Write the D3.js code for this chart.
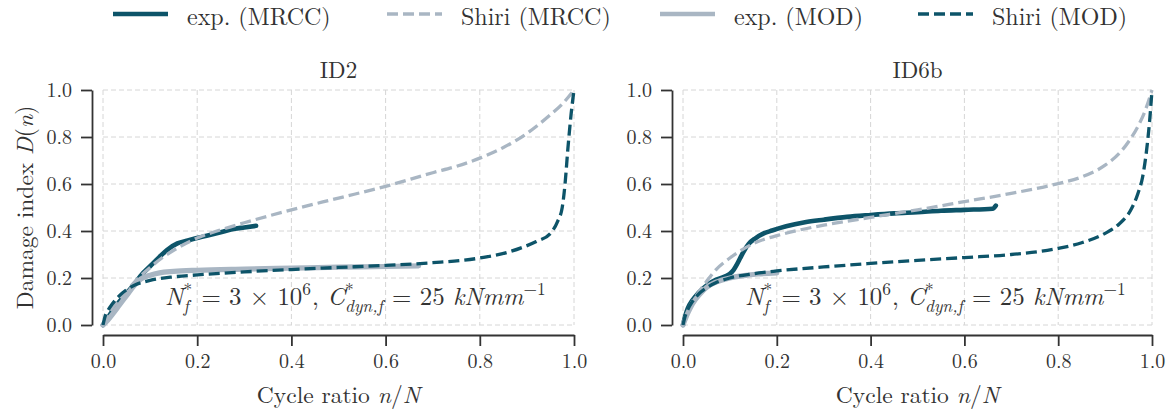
<!DOCTYPE html>
<html><head><meta charset="utf-8">
<script src="https://cdn.jsdelivr.net/npm/d3@7"></script>
<style>
html,body{margin:0;padding:0;background:#fff;}
svg{display:block;}
</style></head>
<body><svg id="chart" width="1175" height="414"></svg>
<script>
// ---------------- data ----------------
const panelTitles = ["ID2", "ID6b"];
const xTicks = [0, 0.2, 0.4, 0.6, 0.8, 1.0];
const yTicks = [0, 0.2, 0.4, 0.6, 0.8, 1.0];
const seriesNames = ["exp. (MRCC)", "Shiri (MRCC)", "exp. (MOD)", "Shiri (MOD)"];

// ID2
const expMRCC_ID2 = [[0,0],[0.01,0.03],[0.02,0.06],[0.035,0.1],[0.05,0.135],[0.065,0.17],[0.08,0.21],[0.1,0.25],[0.12,0.29],[0.14,0.325],[0.158,0.347],[0.18,0.36],[0.2,0.37],[0.22,0.38],[0.25,0.395],[0.28,0.41],[0.3,0.415],[0.325,0.422]];
const shiriMRCC_ID2 = [[0,0],[0.01,0.04],[0.025,0.085],[0.05,0.145],[0.075,0.2],[0.1,0.245],[0.125,0.285],[0.15,0.318],[0.2,0.37],[0.25,0.405],[0.3,0.435],[0.4,0.49],[0.5,0.54],[0.6,0.59],[0.7,0.648],[0.75,0.675],[0.8,0.71],[0.85,0.755],[0.9,0.815],[0.95,0.895],[0.975,0.94],[1.0,1.0]];
const expMOD_ID2 = [[0,0],[0.01,0.02],[0.02,0.045],[0.035,0.085],[0.05,0.125],[0.065,0.165],[0.08,0.195],[0.1,0.212],[0.12,0.222],[0.15,0.228],[0.2,0.233],[0.3,0.238],[0.4,0.242],[0.5,0.246],[0.6,0.249],[0.67,0.252]];
const shiriMOD_ID2 = [[0,0],[0.005,0.04],[0.01,0.06],[0.02,0.09],[0.035,0.125],[0.05,0.15],[0.07,0.172],[0.1,0.19],[0.15,0.205],[0.2,0.213],[0.3,0.226],[0.4,0.236],[0.5,0.245],[0.6,0.254],[0.7,0.265],[0.8,0.285],[0.86,0.31],[0.89,0.33],[0.92,0.355],[0.95,0.39],[0.965,0.44],[0.975,0.5],[0.981,0.6],[0.987,0.75],[0.994,0.9],[1.0,1.0]];

// ID6b
const expMRCC_ID6b = [[0,0],[0.005,0.04],[0.01,0.07],[0.02,0.105],[0.03,0.13],[0.04,0.15],[0.055,0.175],[0.07,0.192],[0.09,0.207],[0.1,0.218],[0.108,0.235],[0.115,0.258],[0.122,0.285],[0.13,0.315],[0.14,0.345],[0.155,0.37],[0.17,0.388],[0.19,0.402],[0.22,0.42],[0.26,0.437],[0.3,0.448],[0.35,0.46],[0.4,0.468],[0.45,0.475],[0.5,0.48],[0.55,0.486],[0.6,0.49],[0.66,0.495],[0.667,0.508]];
const shiriMRCC_ID6b = [[0,0],[0.01,0.06],[0.02,0.1],[0.03,0.13],[0.05,0.185],[0.07,0.235],[0.1,0.285],[0.13,0.325],[0.16,0.355],[0.2,0.38],[0.25,0.405],[0.3,0.425],[0.4,0.458],[0.5,0.49],[0.6,0.525],[0.7,0.56],[0.8,0.602],[0.85,0.63],[0.9,0.68],[0.93,0.73],[0.95,0.78],[0.97,0.845],[0.985,0.91],[1.0,1.0]];
const expMOD_ID6b = [[0,0],[0.01,0.05],[0.02,0.09],[0.035,0.13],[0.05,0.16],[0.07,0.182],[0.1,0.2],[0.13,0.21],[0.16,0.217],[0.2,0.222]];
const shiriMOD_ID6b = [[0,0],[0.005,0.04],[0.01,0.065],[0.02,0.1],[0.035,0.135],[0.05,0.158],[0.07,0.18],[0.1,0.2],[0.15,0.218],[0.2,0.23],[0.3,0.247],[0.4,0.262],[0.5,0.275],[0.6,0.287],[0.7,0.3],[0.8,0.326],[0.85,0.35],[0.9,0.39],[0.93,0.43],[0.955,0.49],[0.97,0.56],[0.98,0.63],[0.99,0.77],[0.995,0.87],[1.0,1.0]];

// ---------------- styles ----------------
const FONT = "'Latin Modern Roman', 'Liberation Serif', serif";
const DARK = "#0d5469", LIGHT = "#a9b6c3", TXT = "#333333";
const styles = [
  {color: DARK,  dash: null,   width: 4.6},
  {color: LIGHT, dash: "11,5", width: 3.3},
  {color: LIGHT, dash: null,   width: 5.2},
  {color: DARK,  dash: "11,5", width: 3.3}
];
function font(sel, size, italic) {
  return sel.style("font-family", FONT).style("font-size", size + "px")
    .style("font-style", italic ? "italic" : "normal");
}

const svg = d3.select("#chart");
const panels = [
  {title: panelTitles[0], x0: 103, x1: 574, spineX: 92, data: [expMRCC_ID2, shiriMRCC_ID2, expMOD_ID2, shiriMOD_ID2], ylabel: true},
  {title: panelTitles[1], x0: 683, x1: 1152, spineX: 672, data: [expMRCC_ID6b, shiriMRCC_ID6b, expMOD_ID6b, shiriMOD_ID6b], ylabel: false}
];
const yTop = 90, yBot = 325, xAxisY = 335;

panels.forEach(p => {
  const x = d3.scaleLinear().domain([0, 1]).range([p.x0, p.x1]);
  const y = d3.scaleLinear().domain([0, 1]).range([yBot, yTop]);
  const g = svg.append("g");

  // grid
  g.append("g").selectAll("line").data(xTicks).join("line")
    .attr("x1", d => x(d)).attr("x2", d => x(d)).attr("y1", yTop).attr("y2", yBot)
    .attr("stroke", "#d6d6d6").attr("stroke-width", 1).attr("stroke-dasharray", "5,3");
  g.append("g").selectAll("line").data(yTicks).join("line")
    .attr("x1", p.x0).attr("x2", p.x1).attr("y1", d => y(d)).attr("y2", d => y(d))
    .attr("stroke", "#d6d6d6").attr("stroke-width", 1).attr("stroke-dasharray", "5,3");

  // axes
  const ax = g.append("g").attr("transform", `translate(${p.spineX},0)`)
    .call(d3.axisLeft(y).tickValues(yTicks).tickFormat(d3.format(".1f")).tickSize(11).tickSizeOuter(0).tickPadding(9));
  const bx = g.append("g").attr("transform", `translate(0,${xAxisY})`)
    .call(d3.axisBottom(x).tickValues(xTicks).tickFormat(d3.format(".1f")).tickSize(11).tickSizeOuter(0).tickPadding(8));
  [ax, bx].forEach(a => {
    a.select(".domain").attr("stroke", TXT).attr("stroke-width", 1.8);
    a.selectAll(".tick line").attr("stroke", TXT).attr("stroke-width", 1.8);
    font(a.selectAll(".tick text").attr("fill", TXT), 20, false);
  });

  // lines
  const line = d3.line().x(d => x(d[0])).y(d => y(d[1])).curve(d3.curveMonotoneX);
  p.data.forEach((ser, i) => {
    const s = styles[i];
    g.append("path").datum(ser).attr("d", line)
      .attr("fill", "none").attr("stroke", s.color).attr("stroke-width", s.width)
      .attr("stroke-dasharray", s.dash).attr("stroke-linecap", s.dash ? "butt" : "round")
      .attr("stroke-linejoin", "round");
  });

  // title
  font(g.append("text").attr("x", (p.x0 + p.x1) / 2).attr("y", 78).attr("text-anchor", "middle")
    .attr("fill", TXT), 23, false).text(p.title);

  // x label
  const xl = font(g.append("text").attr("x", (p.x0 + p.x1) / 2).attr("y", 403).attr("text-anchor", "middle")
    .attr("fill", TXT), 23.5, false);
  xl.append("tspan").text("Cycle ratio ");
  xl.append("tspan").style("font-style", "italic").text("n");
  xl.append("tspan").text("/");
  xl.append("tspan").style("font-style", "italic").text("N");

  if (p.ylabel) {
    const yl = font(g.append("text").attr("transform", `translate(33,${(yTop + yBot) / 2}) rotate(-90)`)
      .attr("text-anchor", "middle").attr("fill", TXT), 23.5, false);
    yl.append("tspan").text("Damage index ");
    yl.append("tspan").style("font-style", "italic").text("D");
    yl.append("tspan").text("(");
    yl.append("tspan").style("font-style", "italic").text("n");
    yl.append("tspan").text(")");
  }

  // annotation
  drawMath(g, p.x0 + 62, 305, 382);
});

function drawMath(g, x0, base, targetW) {
  const runs = [
    {t: "N", it: true},
    {stack: [{t: "*"}, {t: "f", it: true}]},
    {t: " = 3 × 10"},
    {sup: "6"},
    {t: ", "},
    {t: "C", it: true},
    {stack: [{t: "*"}, {t: "dyn,f", it: true}]},
    {t: " = 25 "},
    {t: "kNmm", it: true},
    {sup: "−1"}
  ];
  function render(size) {
    const txt = g.append("text").attr("fill", TXT).style("font-family", FONT).style("white-space", "pre");
    let cx = x0;
    const add = (t, it, sz, dy) => {
      const el = txt.append("tspan").attr("x", cx).attr("y", base + dy)
        .style("font-size", sz + "px").style("font-style", it ? "italic" : "normal").text(t);
      return el.node().getComputedTextLength();
    };
    runs.forEach(r => {
      if (r.t !== undefined) cx += add(r.t, r.it, size, 0);
      else if (r.sup !== undefined) cx += add(r.sup, false, size * 0.7, -size * 0.42) + 1;
      else {
        const w1 = add(r.stack[0].t, false, size * 0.7, -size * 0.36);
        const w2 = add(r.stack[1].t, r.stack[1].it, size * 0.7, size * 0.3);
        cx += Math.max(w1, w2) + 1;
      }
    });
    return {txt, w: cx - x0};
  }
  const first = render(24);
  const size = 24 * targetW / first.w;
  first.txt.remove();
  render(size);
}

// legend
const legX = [113, 387, 660, 918];
const leg = svg.append("g");
seriesNames.forEach((name, i) => {
  const s = styles[i];
  leg.append("line").attr("x1", legX[i]).attr("x2", legX[i] + 55).attr("y1", 14).attr("y2", 14)
    .attr("stroke", s.color).attr("stroke-width", s.dash ? 3.3 : 4.4)
    .attr("stroke-dasharray", s.dash);
  font(leg.append("text").attr("x", legX[i] + 74).attr("y", 25).attr("fill", TXT), 24, false).text(name);
});
</script></body></html>
